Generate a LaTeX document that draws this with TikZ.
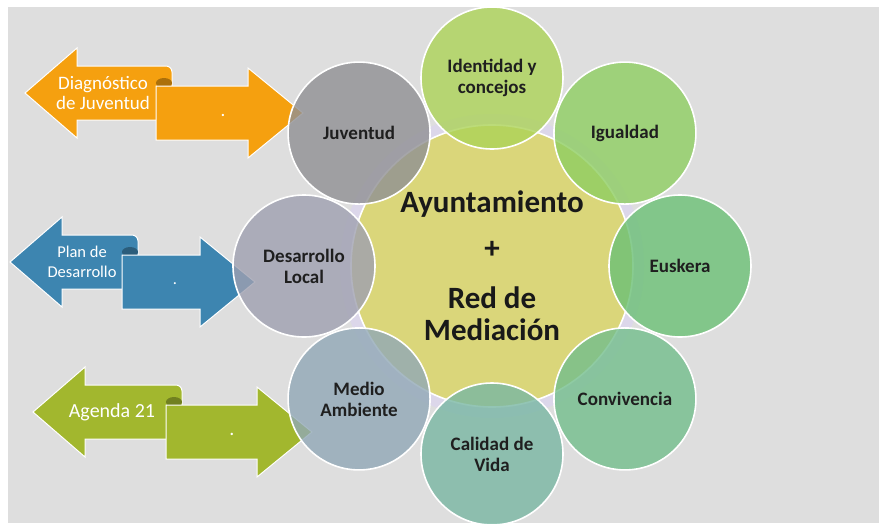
\documentclass[tikz,border=0pt]{standalone}
\usepackage{fontspec}
\setmainfont{Carlito}

\definecolor{fondo}{HTML}{DEDEDE}
\definecolor{lila}{HTML}{DCD7EA}
\definecolor{amarillo}{HTML}{DAD67A}
\definecolor{naranja}{HTML}{F5A00F}
\definecolor{azul}{HTML}{3D85B0}
\definecolor{verde}{HTML}{A2B72E}
\definecolor{cjuv}{HTML}{909094}
\definecolor{cide}{HTML}{ACD358}
\definecolor{cigu}{HTML}{8ECE61}
\definecolor{ceus}{HTML}{6BC075}
\definecolor{ccon}{HTML}{73BE8C}
\definecolor{ccal}{HTML}{79B7A3}
\definecolor{cmed}{HTML}{91A8B6}
\definecolor{cdes}{HTML}{9FA0B0}

\tikzset{
  sat/.style={circle,minimum size=142pt,inner sep=0pt,draw=white,line width=1.6pt,
    fill opacity=0.8,text opacity=1,align=center,text=black!88,
    font=\fontsize{19}{21}\selectfont\bfseries},
  flechatxt/.style={text=white,align=center},
}

\begin{document}
\begin{tikzpicture}[x=1pt,y=-1pt]
\useasboundingbox (0,0) rectangle (879,523);
\clip (0,0) rectangle (879,523);
% background
\fill[white] (0,0) rectangle (879,523);
\fill[fondo] (8,7) rectangle (879,523);
% scroll arrows
\foreach \n/\col/\xl/\yl/\xe/\rb/\tx/\fs/\txt in {diag/naranja/25/93/172/248/103/19/{Diagnóstico\\de Juventud},
    plan/azul/10/262/138/200/82/16.5/{Plan de\\Desarrollo},
    agenda/verde/33/412/182/257/112/20/{Agenda 21}}{
  \filldraw[fill=\col,draw=white,line width=1pt]
    ({\xe-6},{\yl-27}) -- ({\xl+52},{\yl-27}) -- ({\xl+52},{\yl-45}) -- (\xl,\yl)
    -- ({\xl+52},{\yl+45}) -- ({\xl+52},{\yl+27}) -- (\xe,{\yl+27})
    -- (\xe,{\yl-21}) to[out=90,in=0] cycle;
  \fill[\col!70!black] ({\xe-8},{\yl-10}) ellipse[x radius=8pt,y radius=5pt];
  \filldraw[fill=\col,draw=white,line width=1pt]
    ({\xe-16},{\yl-7}) -- (\rb,{\yl-7}) -- (\rb,{\yl-25}) -- ({\rb+55},{\yl+20})
    -- (\rb,{\yl+65}) -- (\rb,{\yl+47}) -- ({\xe-16},{\yl+47}) -- cycle;
  \node[flechatxt,font=\fontsize{\fs}{20}\selectfont] (\n) at (\tx,\yl) {\txt};
  \node[flechatxt,font=\fontsize{\fs}{20}\selectfont] (\n punto) at ({\rb-25},{\yl+22}) {.};
}
% hub
\coordinate (centro) at (492,266);
\fill[lila] (centro) circle[radius=152pt];
\node[circle,minimum size=282pt,inner sep=0pt,fill=amarillo,draw=white,line width=1.6pt,
  align=center,text=black!90,font=\fontsize{31}{32}\selectfont\bfseries] (hub) at (centro)
  {Ayuntamiento\\[14pt]+\\[18pt]Red de\\Mediación};
% satellites
\foreach \n/\a/\col/\txt in {ident/-90/cide/{Identidad y\\concejos}, igual/-45/cigu/Igualdad,
    eusk/0/ceus/Euskera, conv/45/ccon/Convivencia, cal/90/ccal/{Calidad de\\Vida},
    medio/135/cmed/{Medio\\Ambiente}, desa/180/cdes/{Desarrollo\\Local}, juv/225/cjuv/Juventud}
  \node[sat,fill=\col] (\n) at ([shift={(\a:188)}]centro) {\txt};
\end{tikzpicture}
\end{document}
